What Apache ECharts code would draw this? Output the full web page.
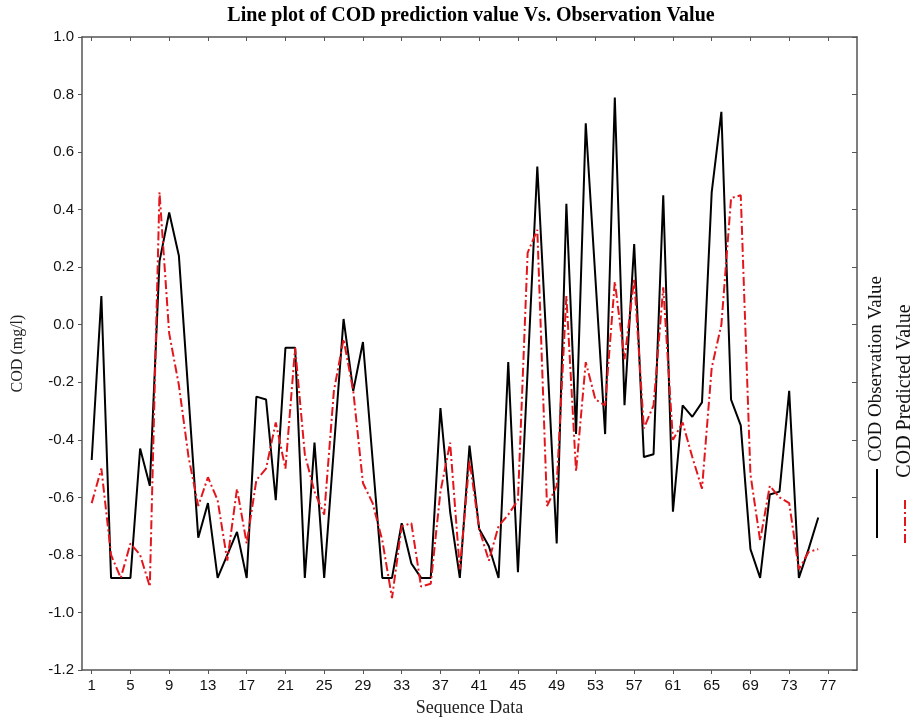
<!DOCTYPE html>
<html>
<head>
<meta charset="utf-8">
<script src="https://cdn.jsdelivr.net/npm/echarts@6/dist/echarts.min.js"></script>
<style>
  html, body { margin: 0; padding: 0; background: #fff; }
  #chart { width: 915px; height: 722px; }
</style>
</head>
<body>
<div id="chart"></div>
<script>
// sequence 1..76, values
var observed = [
  -0.47, 0.10, -0.88, -0.88, -0.88, -0.43, -0.56, 0.22, 0.39, 0.24,
  -0.25, -0.74, -0.62, -0.88, -0.80, -0.72, -0.88, -0.25, -0.26, -0.61,
  -0.08, -0.08, -0.88, -0.41, -0.88, -0.43, 0.02, -0.23, -0.06, -0.47,
  -0.88, -0.88, -0.69, -0.83, -0.88, -0.88, -0.29, -0.65, -0.88, -0.42,
  -0.71, -0.77, -0.88, -0.13, -0.86, -0.16, 0.55, -0.10, -0.76, 0.42,
  -0.38, 0.70, 0.16, -0.38, 0.79, -0.28, 0.28, -0.46, -0.45, 0.45,
  -0.65, -0.28, -0.32, -0.27, 0.46, 0.74, -0.26, -0.35, -0.78, -0.88,
  -0.59, -0.58, -0.23, -0.88, -0.78, -0.67
];
var predicted = [
  -0.62, -0.50, -0.80, -0.88, -0.76, -0.80, -0.91, 0.46, -0.03, -0.21,
  -0.46, -0.63, -0.53, -0.61, -0.82, -0.57, -0.76, -0.54, -0.50, -0.34,
  -0.50, -0.08, -0.45, -0.58, -0.66, -0.23, -0.05, -0.23, -0.55, -0.62,
  -0.75, -0.95, -0.70, -0.69, -0.91, -0.90, -0.58, -0.41, -0.85, -0.47,
  -0.71, -0.82, -0.70, -0.66, -0.61, 0.25, 0.33, -0.63, -0.56, 0.10,
  -0.51, -0.13, -0.26, -0.28, 0.15, -0.12, 0.16, -0.36, -0.28, 0.13,
  -0.40, -0.34, -0.46, -0.57, -0.15, 0.00, 0.44, 0.45, -0.52, -0.75,
  -0.56, -0.60, -0.62, -0.85, -0.79, -0.78
];
var xTicks = [1, 5, 9, 13, 17, 21, 25, 29, 33, 37, 41, 45, 49, 53, 57, 61, 65, 69, 73, 77];

var titleText = 'Line plot of COD prediction value Vs. Observation Value';
var obsName = 'COD Observation Value';
var predName = 'COD Predicted Value';

function pairs(arr) {
  var out = [];
  for (var i = 0; i < arr.length; i++) out.push([i + 1, arr[i]]);
  return out;
}

var frameLine = { show: true, onZero: false, lineStyle: { color: '#555', width: 1.5 } };
var serif = 'Liberation Serif, Times New Roman, serif';
var sans = 'Liberation Sans, Arial, sans-serif';

var chart = echarts.init(document.getElementById('chart'));

var option = {
  animation: false,
  backgroundColor: '#fff',
  grid: { left: 82, right: 58, top: 37, bottom: 49 },
  xAxis: [{
    type: 'value', min: 0, max: 80, position: 'bottom',
    name: 'Sequence Data', nameLocation: 'middle', nameGap: 29,
    nameTextStyle: { fontFamily: serif, fontSize: 18, color: '#222' },
    axisLine: frameLine,
    splitLine: { show: false },
    axisTick: { show: true, inside: false, length: 4, customValues: xTicks, lineStyle: { color: '#555' } },
    axisLabel: { customValues: xTicks, fontFamily: sans, fontSize: 15, color: '#111', margin: 8 }
  }, {
    type: 'value', min: 0, max: 80, position: 'top',
    axisLine: frameLine,
    splitLine: { show: false },
    axisTick: { show: true, inside: true, length: 4, customValues: xTicks, lineStyle: { color: '#555' } },
    axisLabel: { show: false }
  }],
  yAxis: [{
    type: 'value', min: -1.2, max: 1.0, interval: 0.2, position: 'left',
    name: 'COD (mg/l)', nameLocation: 'middle', nameGap: 56, nameRotate: 90,
    nameTextStyle: { fontFamily: serif, fontSize: 16, color: '#222' },
    axisLine: frameLine,
    splitLine: { show: false },
    axisTick: { show: true, inside: false, length: 4, lineStyle: { color: '#555' } },
    axisLabel: {
      fontFamily: sans, fontSize: 15, color: '#111', margin: 8,
      formatter: function (v) { return v.toFixed(1); }
    }
  }, {
    type: 'value', min: -1.2, max: 1.0, interval: 0.2, position: 'right',
    axisLine: frameLine,
    splitLine: { show: false },
    axisTick: { show: true, inside: true, length: 5, lineStyle: { color: '#555' } },
    axisLabel: { show: false }
  }],
  series: [{
    name: obsName, type: 'line', xAxisIndex: 0, yAxisIndex: 0,
    data: pairs(observed), showSymbol: false, symbol: 'none',
    lineStyle: { color: '#000', width: 2 }
  }, {
    name: predName, type: 'line', xAxisIndex: 0, yAxisIndex: 0,
    data: pairs(predicted), showSymbol: false, symbol: 'none',
    lineStyle: { color: '#e3161c', width: 2, type: [9, 3, 2, 3] }
  }],
  graphic: [{
    type: 'text', x: 471, y: 16,
    style: { text: titleText, fontFamily: serif, fontWeight: 'bold', fontSize: 20, fill: '#000', align: 'center', verticalAlign: 'middle' }
  }, {
    type: 'text', x: 876, y: 369, rotation: Math.PI / 2,
    style: { text: obsName, fontFamily: serif, fontSize: 19, fill: '#111', align: 'center', verticalAlign: 'middle' }
  }, {
    type: 'text', x: 905, y: 391, rotation: Math.PI / 2,
    style: { text: predName, fontFamily: serif, fontSize: 20, fill: '#111', align: 'center', verticalAlign: 'middle' }
  }, {
    type: 'line', shape: { x1: 877, y1: 469, x2: 877, y2: 538 },
    style: { stroke: '#000', lineWidth: 2 }
  }, {
    type: 'line', shape: { x1: 905, y1: 500, x2: 905, y2: 546 },
    style: { stroke: '#e3161c', lineWidth: 2, lineDash: [9, 3, 2, 3] }
  }]
};

chart.setOption(option);
</script>
</body>
</html>
